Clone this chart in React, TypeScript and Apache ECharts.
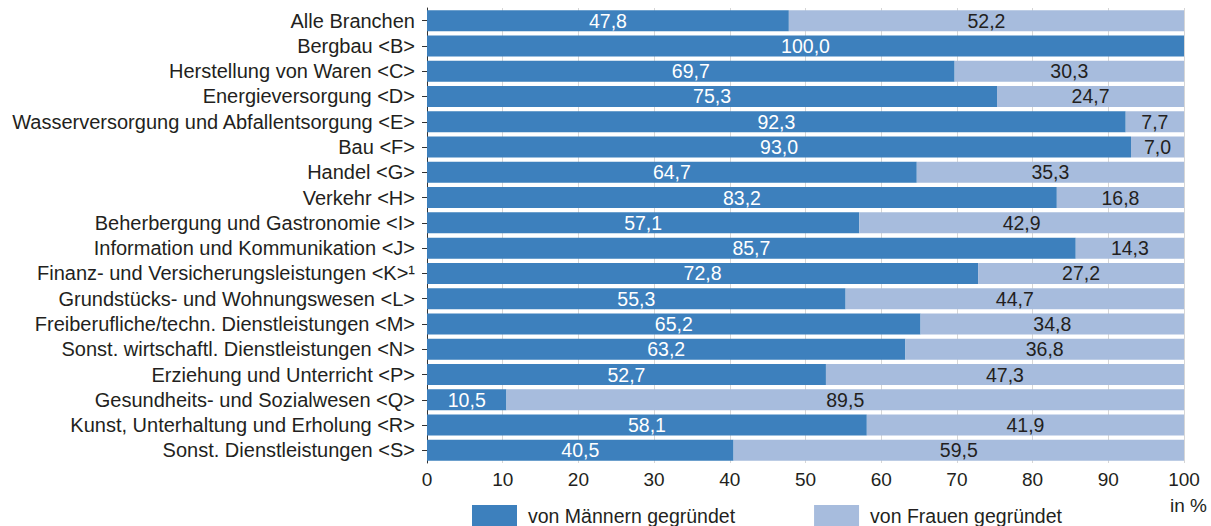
import React, { useEffect, useRef } from "react";
import * as echarts from "echarts";

const categories = [
  "Alle Branchen",
  "Bergbau <B>",
  "Herstellung von Waren <C>",
  "Energieversorgung <D>",
  "Wasserversorgung und Abfallentsorgung <E>",
  "Bau <F>",
  "Handel <G>",
  "Verkehr <H>",
  "Beherbergung und Gastronomie <I>",
  "Information und Kommunikation <J>",
  "Finanz- und Versicherungsleistungen <K>¹",
  "Grundstücks- und Wohnungswesen <L>",
  "Freiberufliche/techn. Dienstleistungen <M>",
  "Sonst. wirtschaftl. Dienstleistungen <N>",
  "Erziehung und Unterricht <P>",
  "Gesundheits- und Sozialwesen <Q>",
  "Kunst, Unterhaltung und Erholung <R>",
  "Sonst. Dienstleistungen <S>",
];

const maenner = [47.8, 100.0, 69.7, 75.3, 92.3, 93.0, 64.7, 83.2, 57.1, 85.7, 72.8, 55.3, 65.2, 63.2, 52.7, 10.5, 58.1, 40.5];
const frauen = [52.2, 0, 30.3, 24.7, 7.7, 7.0, 35.3, 16.8, 42.9, 14.3, 27.2, 44.7, 34.8, 36.8, 47.3, 89.5, 41.9, 59.5];

const xTicks = [0, 10, 20, 30, 40, 50, 60, 70, 80, 90, 100];

const FONT = "Liberation Sans, Arial, sans-serif";
const TEXT = "#231f20";
const fmt = (v: number) => (v > 0 ? v.toFixed(1).replace(".", ",") : "");

export default function App() {
  const ref = useRef<HTMLDivElement>(null);

  useEffect(() => {
    if (!ref.current) return;
    const chart = echarts.init(ref.current, undefined, { renderer: "svg" });
    chart.setOption({
      animation: false,
      textStyle: { fontFamily: FONT },
      grid: { left: 427, right: 27, top: 8, height: 455, containLabel: false },
      legend: {
        top: 505,
        left: 472,
        padding: 0,
        itemWidth: 45,
        itemHeight: 21,
        itemGap: 79,
        icon: "rect",
        textStyle: { fontFamily: FONT, fontSize: 19.5, color: TEXT, padding: [0, 0, 0, 6] },
        data: ["von Männern gegründet", "von Frauen gegründet"],
      },
      xAxis: {
        type: "value",
        min: xTicks[0],
        max: xTicks[xTicks.length - 1],
        interval: 10,
        axisLine: { show: false },
        axisTick: { show: false },
        splitLine: { show: true, lineStyle: { color: "#d6d6d6", width: 1 } },
        axisLabel: { fontFamily: FONT, fontSize: 19, color: TEXT, margin: 7 },
      },
      yAxis: {
        type: "category",
        inverse: true,
        data: categories,
        axisLine: { show: true, lineStyle: { color: "#333", width: 1 } },
        axisTick: { show: true, interval: 0, length: 5, alignWithLabel: true, lineStyle: { color: "#333" } },
        axisLabel: { interval: 0, fontFamily: FONT, fontSize: 20, color: TEXT, margin: 12 },
      },
      graphic: [
        {
          type: "text",
          left: 1170,
          top: 496,
          style: { text: "in %", fontFamily: FONT, fontSize: 19, fill: TEXT },
        },
      ],
      series: [
        {
          name: "von Männern gegründet",
          type: "bar",
          stack: "total",
          data: maenner,
          barCategoryGap: "17%",
          itemStyle: { color: "#3d80bd" },
          label: {
            show: true,
            position: "inside",
            color: "#fff",
            fontFamily: FONT,
            fontSize: 19.5,
            formatter: (p: any) => fmt(p.value),
          },
        },
        {
          name: "von Frauen gegründet",
          type: "bar",
          stack: "total",
          data: frauen,
          itemStyle: { color: "#a7bcdd" },
          label: {
            show: true,
            position: "inside",
            color: TEXT,
            fontFamily: FONT,
            fontSize: 19.5,
            formatter: (p: any) => fmt(p.value),
          },
        },
      ],
    });
    return () => chart.dispose();
  }, []);

  return (
    <div
      ref={ref}
      style={{ position: "absolute", left: 0, top: 0, width: 1211, height: 526 }}
    />
  );
}
